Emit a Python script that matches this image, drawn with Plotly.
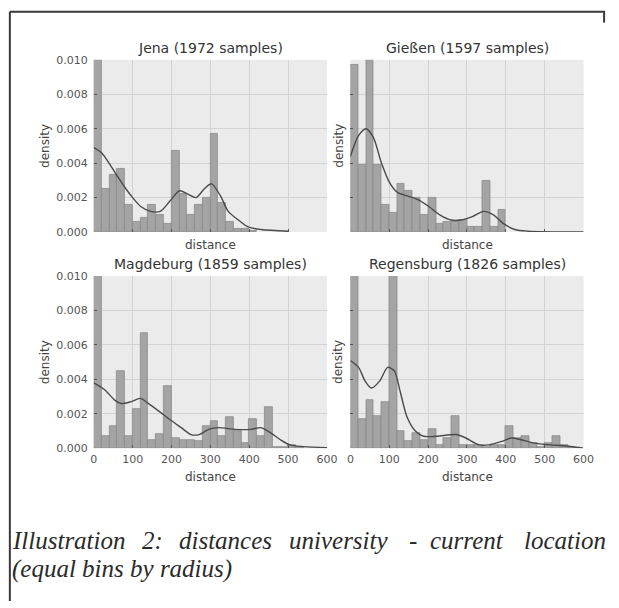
import plotly.graph_objects as go

# ---- data -------------------------------------------------------------
BIN_WIDTH = 20  # km per histogram bin

titles = [
    "Jena (1972 samples)",
    "Gießen (1597 samples)",
    "Magdeburg (1859 samples)",
    "Regensburg (1826 samples)",
]

# histogram densities, one value per 20 km bin starting at 0
jena_hist = [0.0115, 0.0025, 0.0033, 0.0037, 0.0016, 0.0006, 0.0008, 0.0016, 0.0010, 0.0005,
             0.0047, 0.0022, 0.0010, 0.0016, 0.0020, 0.0057, 0.0017, 0.0006, 0.0002, 0.0002,
             0.0001]
giessen_hist = [0.0097, 0.0039, 0.0115, 0.0039, 0.0016, 0.0011, 0.0028, 0.0024, 0.0020, 0.0010,
                0.0020, 0.0005, 0.0006, 0.0006, 0.0007, 0.0003, 0.0003, 0.0030, 0.0003, 0.0013]
magdeburg_hist = [0.0115, 0.0007, 0.0013, 0.0045, 0.0007, 0.0023, 0.0067, 0.0005, 0.0008, 0.0036,
                  0.0006, 0.0005, 0.0005, 0.0004, 0.0013, 0.0016, 0.0007, 0.0018, 0.0010, 0.0003,
                  0.0017, 0.0007, 0.0024, 0.0001, 0.0001, 0.0002, 0.0001]
regensburg_hist = [0.0115, 0.0017, 0.0028, 0.0019, 0.0027, 0.0115, 0.0010, 0.0004, 0.0009, 0.0005,
                   0.0011, 0.0002, 0.0006, 0.0019, 0.0002, 0.0002, 0.0002, 0.0001, 0.0002, 0.0002,
                   0.0013, 0.0006, 0.0007, 0.0003, 0.0001, 0.0003, 0.0007, 0.0002, 0.0001]

# kernel density estimates (distance, density)
jena_kde_x = [0, 20, 45, 62, 83, 100, 120, 146, 171, 196, 221, 242, 263, 284, 303, 326, 346, 372, 397, 430, 500]
jena_kde_y = [0.0049, 0.0046, 0.0038, 0.0032, 0.0025, 0.0020, 0.0015, 0.0012, 0.0012, 0.0018, 0.0024,
              0.0022, 0.0020, 0.0025, 0.0028, 0.0021, 0.0012, 0.0007, 0.0003, 0.00015, 0.00005]

giessen_kde_x = [0, 21, 40, 59, 80, 100, 121, 146, 172, 201, 230, 259, 285, 314, 343, 368, 393, 423, 456, 600]
giessen_kde_y = [0.0044, 0.0056, 0.0060, 0.0055, 0.0040, 0.0029, 0.0023, 0.0021, 0.0019, 0.0015, 0.0010,
                 0.0007, 0.0007, 0.0009, 0.0012, 0.0010, 0.0005, 0.00015, 0.00005, 0.0]

magdeburg_kde_x = [0, 28, 54, 70, 95, 120, 141, 171, 200, 225, 250, 271, 296, 321, 363, 405, 430, 455,
                   480, 505, 539, 600]
magdeburg_kde_y = [0.0038, 0.0034, 0.0028, 0.0026, 0.0027, 0.0029, 0.0026, 0.0021, 0.0016, 0.0012, 0.0008,
                   0.0008, 0.0011, 0.0012, 0.0011, 0.0011, 0.0012, 0.0009, 0.0005, 0.0002, 0.0001, 0.00003]

regensburg_kde_x = [0, 21, 38, 54, 75, 96, 113, 128, 146, 167, 188, 222, 272, 297, 331, 356, 389, 414,
                    439, 473, 515, 548, 598]
regensburg_kde_y = [0.0051, 0.0047, 0.0039, 0.0035, 0.0039, 0.0047, 0.0045, 0.0033, 0.0018, 0.0010,
                    0.0007, 0.0007, 0.0008, 0.0006, 0.0002, 0.0002, 0.0004, 0.0006, 0.0005, 0.0003,
                    0.0002, 0.00015, 0.00002]

x_ticks = [0, 100, 200, 300, 400, 500, 600]
y_ticks = [0.000, 0.002, 0.004, 0.006, 0.008, 0.010]

caption_line1 = ["Illustration", "2:", "distances", "university", "-", "current", "location"]
caption_line2 = "(equal bins by radius)"

# ---- layout geometry (pixels in a 619 x 608 page) -------------------
W, H = 619, 608
col_px = [(92, 331), (355, 594)]
row_px = [(55, 231), (276, 452)]


def px_x(v):
    return v / W


def px_y(v):
    return 1 - v / H


panels = [
    (jena_hist, jena_kde_x, jena_kde_y, 0, 0),
    (giessen_hist, giessen_kde_x, giessen_kde_y, 0, 1),
    (magdeburg_hist, magdeburg_kde_x, magdeburg_kde_y, 1, 0),
    (regensburg_hist, regensburg_kde_x, regensburg_kde_y, 1, 1),
]

BG = "#ebebeb"
GRID = "#d3d3d3"
BAR = "#a4a4a4"
BAR_EDGE = "#8a8a8a"
LINE = "#4a4a4a"
TICK_FONT = dict(family="DejaVu Sans", size=11, color="#555555")
LABEL_FONT = dict(family="DejaVu Sans", size=12, color="#444444")
TITLE_FONT = dict(family="DejaVu Sans", size=14, color="#333333")

fig = go.Figure()
layout = dict(
    width=W, height=H,
    margin=dict(l=0, r=0, t=0, b=0),
    paper_bgcolor="white",
    plot_bgcolor=BG,
    showlegend=False,
    bargap=0,
    annotations=[],
    shapes=[],
)

for i, (hist, kx, ky, r, c) in enumerate(panels):
    n = i + 1
    xa = "x" if n == 1 else f"x{n}"
    ya = "y" if n == 1 else f"y{n}"
    centers = [BIN_WIDTH * k + BIN_WIDTH / 2 for k in range(len(hist))]
    fig.add_trace(go.Bar(
        x=centers, y=hist, width=BIN_WIDTH,
        marker=dict(color=BAR, line=dict(color=BAR_EDGE, width=0.8)),
        xaxis=xa, yaxis=ya, hoverinfo="skip",
    ))
    fig.add_trace(go.Scatter(
        x=kx, y=ky, mode="lines",
        line=dict(color=LINE, width=1.4, shape="spline", smoothing=0.8),
        xaxis=xa, yaxis=ya, hoverinfo="skip", cliponaxis=True,
    ))

    x0, x1 = col_px[c]
    y0, y1 = row_px[r]
    xkey = "xaxis" if n == 1 else f"xaxis{n}"
    ykey = "yaxis" if n == 1 else f"yaxis{n}"
    layout[xkey] = dict(
        domain=[px_x(x0), px_x(x1)], anchor=ya, range=[0, 600],
        tickvals=x_ticks, showticklabels=(r == 1), tickfont=TICK_FONT,
        ticks="inside", ticklen=3, tickcolor="#555555", ticklabelstandoff=3,
        showgrid=True, gridcolor=GRID, gridwidth=1,
        zeroline=False, showline=False,
    )
    layout[ykey] = dict(
        domain=[px_y(y1), px_y(y0)], anchor=xa, range=[0, 0.010],
        tickvals=y_ticks, tickformat=".3f", showticklabels=(c == 0), tickfont=TICK_FONT,
        ticks="inside", ticklen=3, tickcolor="#555555", ticklabelstandoff=5,
        showgrid=True, gridcolor=GRID, gridwidth=1,
        zeroline=False, showline=False,
    )

    cx = (x0 + x1) / 2
    layout["annotations"].append(dict(
        text=titles[i], x=px_x(cx), y=px_y(y0 - 12), xref="paper", yref="paper",
        xanchor="center", yanchor="middle", showarrow=False, font=TITLE_FONT,
    ))
    layout["annotations"].append(dict(
        text="distance", x=px_x(cx), y=px_y(y1 + (13 if r == 0 else 29)), xref="paper", yref="paper",
        xanchor="center", yanchor="middle", showarrow=False, font=LABEL_FONT,
    ))
    layout["annotations"].append(dict(
        text="density", x=px_x(x0 - (50 if c == 0 else 12)), y=px_y((y0 + y1) / 2),
        xref="paper", yref="paper", textangle=-90,
        xanchor="center", yanchor="middle", showarrow=False, font=LABEL_FONT,
    ))

# caption below the figure, justified across the frame
CAP_FONT = dict(family="Liberation Serif", size=25, color="#2a2a2a")
word_centers = [None, 152, 227, 343, 419, 475, None]
for word, cxw in zip(caption_line1, word_centers):
    if word == caption_line1[0]:
        ann = dict(x=px_x(6), xanchor="left")
    elif word == caption_line1[-1]:
        ann = dict(x=px_x(619), xanchor="right")
    else:
        ann = dict(x=px_x(cxw), xanchor="center")
    ann.update(text=f"<i>{word}</i>", y=px_y(546), yanchor="middle", xref="paper", yref="paper",
               showarrow=False, font=CAP_FONT)
    layout["annotations"].append(ann)
layout["annotations"].append(dict(
    text=f"<i>{caption_line2}</i>", x=px_x(6), y=px_y(575), xanchor="left", yanchor="middle",
    xref="paper", yref="paper", showarrow=False, font=CAP_FONT,
))

# frame around the illustration
FRAME = dict(color="#3a3a3a", width=2)
layout["shapes"] += [
    dict(type="line", xref="paper", yref="paper", x0=px_x(6), x1=px_x(6), y0=px_y(6), y1=0, line=FRAME),
    dict(type="line", xref="paper", yref="paper", x0=px_x(6), x1=px_x(616), y0=px_y(6), y1=px_y(6), line=FRAME),
    dict(type="line", xref="paper", yref="paper", x0=px_x(615), x1=px_x(615), y0=px_y(6), y1=px_y(17), line=FRAME),
]

fig.update_layout(**layout)
fig.write_html("out.html")
